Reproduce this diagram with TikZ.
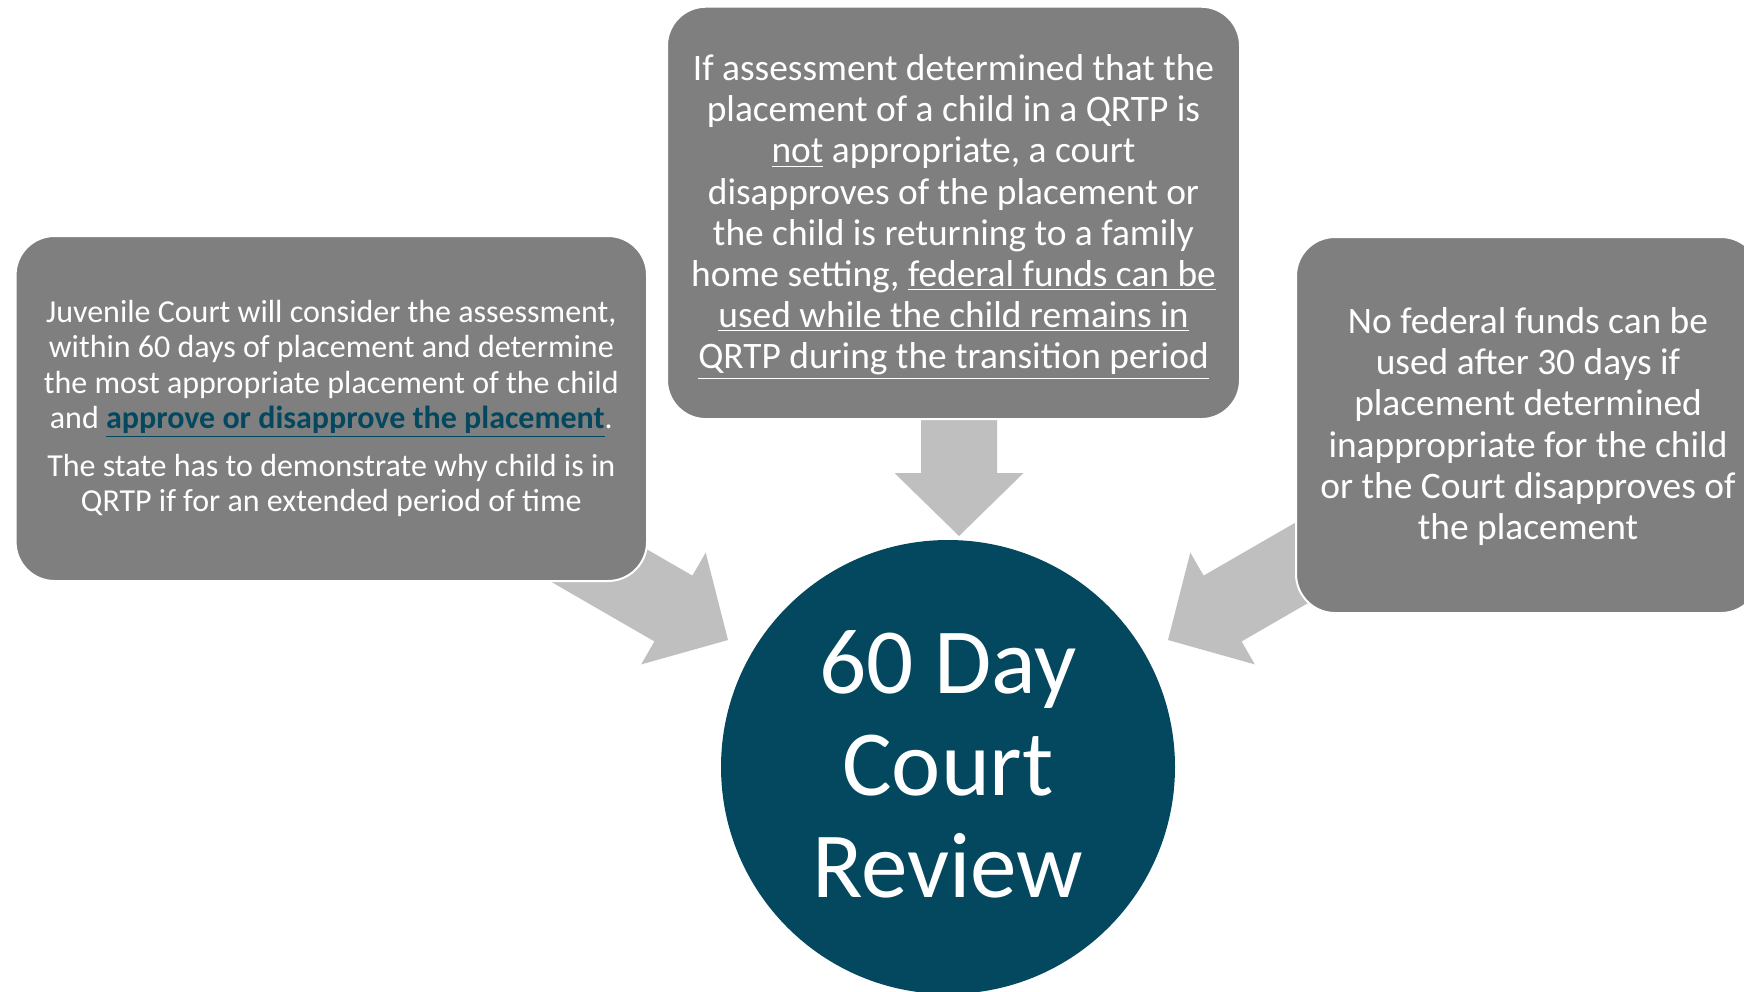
\documentclass[tikz,border=0pt]{standalone}
\usepackage{fontspec}
\setmainfont{Carlito}
\definecolor{boxgray}{HTML}{7F7F7F}
\definecolor{arrowgray}{HTML}{BFBFBF}
\definecolor{darkteal}{HTML}{04485F}
\begin{document}
\begin{tikzpicture}[x=0.5pt,y=-0.5pt,
  infobox/.style={fill=boxgray, draw=white, line width=1pt, rounded corners=19.5pt, inner sep=0pt},
  boxtext/.style={text=white, align=center, inner sep=0pt},
  blockarrow/.style={fill=arrowgray, draw=none}]
\clip (0,0) rectangle (1744,991);
\fill[white] (0,0) rectangle (1744,991);
% block arrows
\fill[blockarrow] (921,420) -- (997,420) -- (997,473) -- (1023.5,473) -- (959,536) -- (894.5,473) -- (921,473) -- cycle;
\fill[blockarrow] (515.8,561.4) -- (553.8,495.6) -- (692.4,575.6) -- (705.7,552.6) -- (728,640) -- (641.2,664.4) -- (654.4,641.4) -- cycle;
\fill[blockarrow] (1380.2,561.4) -- (1342.2,495.6) -- (1203.6,575.6) -- (1190.3,552.6) -- (1168,640) -- (1254.8,664.4) -- (1241.6,641.4) -- cycle;
% boxes
\node[infobox, minimum width=315.7pt, minimum height=172.5pt] (L) at (331.3,408.5) {};
\node[boxtext, font=\fontsize{16}{17.65}\selectfont] (Ltext) at (L.center)
 {Juvenile Court will consider the assessment,\\
  within 60 days of placement and determine\\
  the most appropriate placement of the child\\
  and \textcolor{darkteal}{\textbf{\underline{approve or disapprove the placement}}}.\\[6.3pt]
  The state has to demonstrate why child is in\\
  QRTP if for an extended period of time};
\node[infobox, minimum width=286.5pt, minimum height=206.2pt] (T) at (953.5,212.9) {};
\node[boxtext, font=\fontsize{18.7}{20.6}\selectfont] (Ttext) at ([yshift=-2pt]T.center)
 {If assessment determined that the\\
  placement of a child in a QRTP is\\
  \underline{not} appropriate, a court\\
  disapproves of the placement or\\
  the child is returning to a family\\
  home setting, \underline{federal funds can be}\\
  \underline{used while the child remains in}\\
  \underline{QRTP during the transition period}};
\node[infobox, minimum width=232pt, minimum height=188pt] (R) at (1528,425) {};
\node[boxtext, font=\fontsize{18.7}{20.6}\selectfont] (Rtext) at ([yshift=-0.8pt]R.center)
 {No federal funds can be\\
  used after 30 days if\\
  placement determined\\
  inappropriate for the child\\
  or the Court disapproves of\\
  the placement};
% circle
\node[circle, fill=darkteal, minimum size=227pt, inner sep=0pt] (C) at (948,767) {};
\node[boxtext, font=\fontsize{46.6}{51}\selectfont] (Ctext) at ([yshift=1.5pt]C.center)
 {60 Day\\Court\\Review};
\end{tikzpicture}
\end{document}
